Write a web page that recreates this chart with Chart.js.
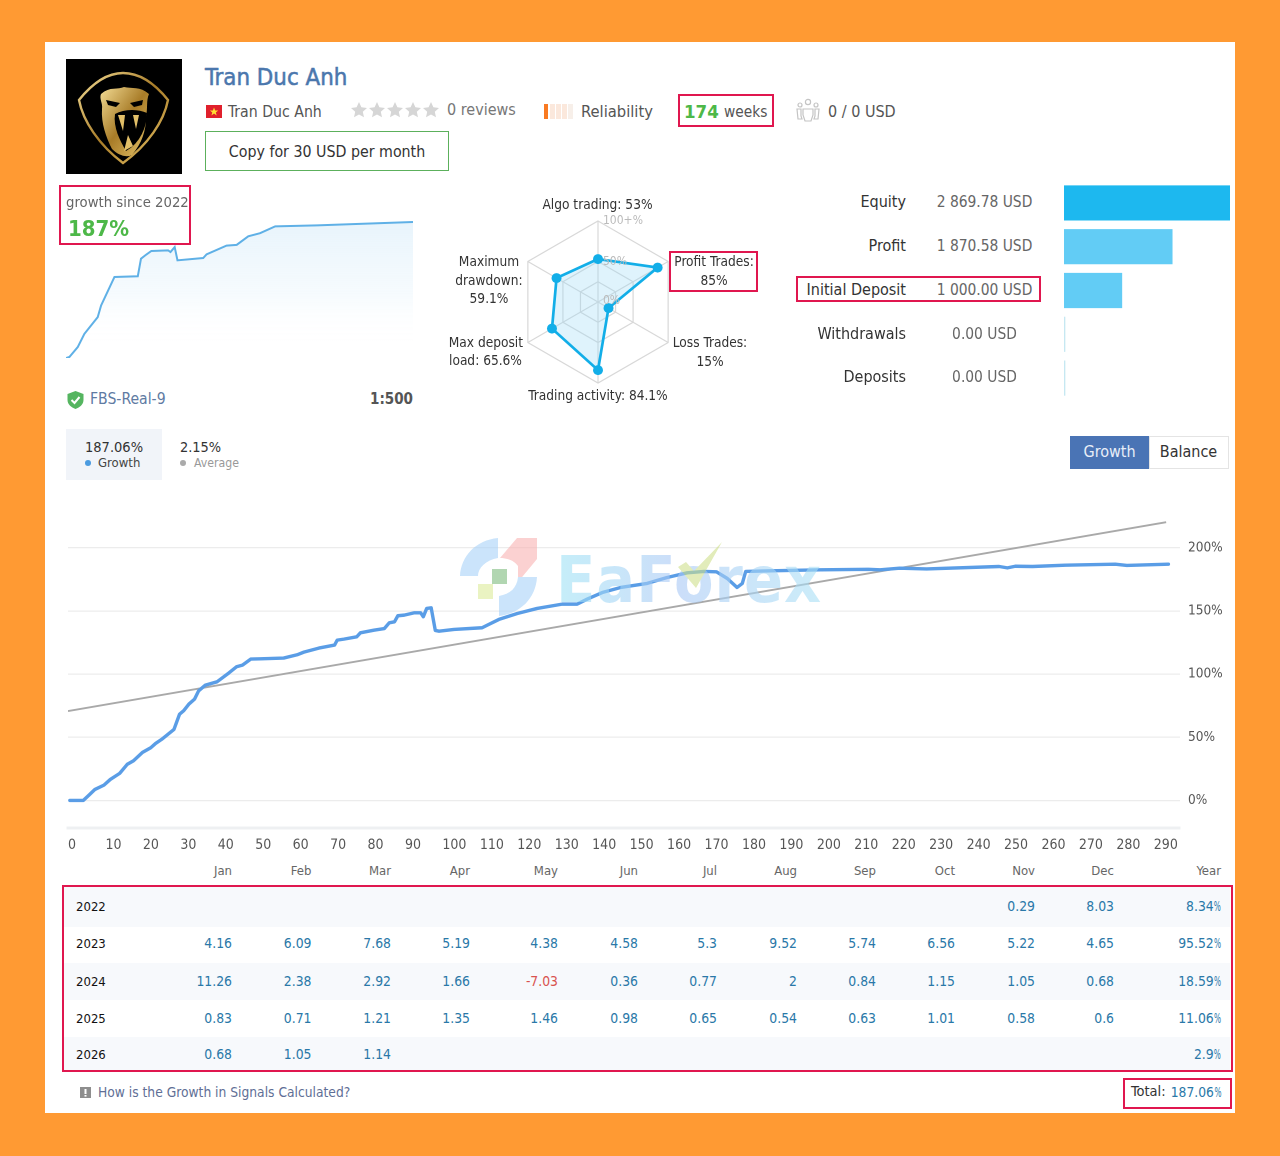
<!DOCTYPE html>
<html><head><meta charset="utf-8">
<script src="https://cdn.jsdelivr.net/npm/chart.js@4"></script>
<style>
html,body{margin:0;padding:0;background:#ff9a33;width:1280px;height:1156px;overflow:hidden}
body{font-family:"DejaVu Sans Condensed","DejaVu Sans",sans-serif;font-stretch:condensed;color:#333;position:relative}
#panel{position:absolute;left:45px;top:42px;width:1190px;height:1071px;background:#fff}
.t{position:absolute;white-space:nowrap;transform:translateY(-50%);line-height:1.2;font-size:14.5px}
.c{transform:translate(-50%,-50%)}
.r{transform:translate(-100%,-50%)}
.box{position:absolute;border:2px solid #e0174f;box-sizing:border-box}
.abs{position:absolute}
canvas{position:absolute}
.band{position:absolute;left:64px;width:1166px;background:#f7f9fc}
.pc{display:inline-block;transform:scaleX(.6);transform-origin:100% 50%;margin-left:-4.5px}
</style></head><body>
<div id="panel"></div>

<!-- avatar -->
<svg class="abs" style="left:66px;top:59px" width="116" height="115" viewBox="0 0 116 115">
<defs><linearGradient id="g" x1="0" y1="0" x2="1" y2="1"><stop offset="0" stop-color="#f3dc95"/><stop offset=".5" stop-color="#a87c28"/><stop offset="1" stop-color="#e8c56a"/></linearGradient></defs>
<rect width="116" height="115" fill="#000"/>
<path d="M57 14C74 14 90 26 102 41C98 62 82 86 57 104C33 86 17 62 13 41C25 26 40 14 57 14Z" fill="none" stroke="url(#g)" stroke-width="2.4"/>
<path d="M35 35C44 27 52 31 58 28C66 30 74 27 83 35C80 42 82 48 80 58C80 72 76 84 66 96C60 99 52 96 46 90C40 78 35 64 36 50C37 44 33 40 35 35Z" fill="url(#g)"/>
<path d="M40 41L54 44L50 48L42 46ZM77 41L64 44L68 48L76 46Z" fill="#000"/>
<path d="M49 55C58 50 72 50 81 54C81 68 74 84 60 92C54 82 47 68 49 55Z" fill="#000"/>
<path d="M52 56L57 72L59 56ZM73 56L70 70L67 56ZM58 92L62 76L67 87Z" fill="#e2bf68"/>
</svg>

<div class="t" style="left:205px;top:77px;font-size:23.8px;color:#4b77ad;-webkit-text-stroke:.5px #4b77ad">Tran Duc Anh</div>
<svg class="abs" style="left:206px;top:105px" width="16" height="13"><rect width="16" height="13" fill="#e0202c"/><path d="M8 2.5l1.2 2.9 3 .1-2.4 1.9.9 3-2.7-1.8-2.6 1.8.9-3-2.4-1.9 3-.1z" fill="#ffe033"/></svg>
<div class="t" style="left:228px;top:112px;font-size:15.7px;color:#555">Tran Duc Anh</div>
<svg class="abs" style="left:351px;top:102px" width="92" height="17" fill="#d6d6d6">
<path id="st" d="M8 0l2.4 5.3 5.6.6-4.2 3.8 1.2 5.6L8 12.5 3 15.3l1.2-5.6L0 5.9l5.6-.6z"/>
<use href="#st" x="18"/><use href="#st" x="36"/><use href="#st" x="54"/><use href="#st" x="72"/></svg>
<div class="t" style="left:447px;top:110px;font-size:16px;color:#777">0 reviews</div>
<svg class="abs" style="left:544px;top:104px" width="32" height="15"><rect width="4" height="15" fill="#f97a22"/><g fill="#fbe8dc"><rect x="6" width="5" height="15"/><rect x="12" width="5" height="15"/><rect x="18" width="5" height="15"/><rect x="24" width="5" height="15" fill="#f7efe9"/></g></svg>
<div class="t" style="left:581px;top:112px;font-size:16.4px;color:#555">Reliability</div>
<div class="box" style="left:678px;top:94px;width:96px;height:33px"></div>
<div class="t" style="left:684px;top:112px;font-size:18.5px;font-weight:700;color:#4db848">174</div>
<div class="t" style="left:724px;top:112px;font-size:15.3px;color:#555">weeks</div>
<svg class="abs" style="left:795px;top:98px" width="26" height="24" fill="none" stroke="#c4c4c4" stroke-width="1.2"><circle cx="13" cy="4" r="2.6"/><circle cx="5" cy="7" r="2"/><circle cx="21" cy="7" r="2"/><path d="M8 11h10v6l-2 6h-6l-2-6zM2 11h4v7l1 3H3zM24 11h-4v7l-1 3h4z"/></svg>
<div class="t" style="left:828px;top:112px;font-size:16px;color:#555">0 / 0 USD</div>
<div class="abs" style="left:205px;top:131px;width:244px;height:40px;border:1px solid #5cb05c;box-sizing:border-box"></div>
<div class="t c" style="left:327px;top:152px;font-size:15.8px;color:#333">Copy for 30 USD per month</div>

<!-- sparkline -->
<canvas id="spark" style="left:66px;top:218px;width:347px;height:140px"></canvas>
<div class="box" style="left:59px;top:185px;width:132px;height:60px"></div>
<div class="t" style="left:66px;top:202px;font-size:14.75px;color:#666">growth since 2022</div>
<div class="t" style="left:68px;top:229px;font-size:22px;font-weight:700;color:#4db848">187%</div>
<svg class="abs" style="left:67px;top:391px" width="17" height="18"><path d="M8.5 0L16.5 3V9C16.5 13 13 16.5 8.5 18C4 16.5 .5 13 .5 9V3Z" fill="#55b560"/><path d="M4.5 9l3 3 5-6" fill="none" stroke="#fff" stroke-width="2"/></svg>
<div class="t" style="left:90px;top:399px;font-size:15.6px;color:#5f7ba3">FBS-Real-9</div>
<div class="t r" style="left:413px;top:399px;font-size:15px;font-weight:700;color:#555">1:500</div>

<!-- radar -->
<canvas id="radar" style="left:513px;top:217px;width:170px;height:170px"></canvas>
<div id="radarLabels"></div>
<div class="box" style="left:669px;top:251px;width:89px;height:41px"></div>

<!-- bars -->
<canvas id="bars" style="left:1064px;top:181px;width:166px;height:219px"></canvas>
<div id="summary"></div>
<div class="box" style="left:796px;top:276px;width:245px;height:26px"></div>

<!-- stat tabs -->
<div class="abs" style="left:66px;top:429px;width:96px;height:51px;background:#f1f4f9"></div>
<div class="t" style="left:85px;top:448px;font-size:14.5px;color:#333">187.06%</div>
<div class="abs" style="left:85px;top:460px;width:6px;height:6px;border-radius:50%;background:#4b9be0"></div>
<div class="t" style="left:98px;top:463px;font-size:13px;color:#444">Growth</div>
<div class="t" style="left:180px;top:448px;font-size:14.4px;color:#333">2.15%</div>
<div class="abs" style="left:180px;top:460px;width:6px;height:6px;border-radius:50%;background:#aaa"></div>
<div class="t" style="left:194px;top:463px;font-size:12.2px;color:#999">Average</div>
<div class="abs" style="left:1070px;top:436px;width:79px;height:33px;background:#4a74b5"></div>
<div class="t c" style="left:1109.5px;top:452px;font-size:16px;color:#e8eef8">Growth</div>
<div class="abs" style="left:1149px;top:436px;width:80px;height:33px;border:1px solid #e4e4e4;box-sizing:border-box"></div>
<div class="t c" style="left:1188.5px;top:452px;font-size:16px;color:#333">Balance</div>

<!-- main chart -->
<canvas id="main" style="left:60px;top:490px;width:1175px;height:370px"></canvas>

<!-- watermark -->
<div class="abs" style="left:460px;top:538px;width:370px;height:80px;opacity:.6;pointer-events:none">
<svg class="abs" style="left:0;top:0" width="80" height="78">
<path d="M38 0C16 2 1 18 0 38H18C18 30 26 22 38 20Z" fill="#a9d3f8"/>
<path d="M40 20L57 0H77V21L58 44L58 28C54 22 46 20 40 20Z" fill="#f9b3b3"/>
<path d="M77 39C76 60 60 76 39 78V58C50 56 57 50 58 39Z" fill="#a9d3f8"/>
<rect x="32" y="31" width="15" height="15" fill="#7dbb7d"/>
<rect x="18" y="46" width="15" height="15" fill="#dcec9a"/>
</svg>
<div class="t" style="left:96px;top:42px;font-size:64px;font-weight:700;font-family:'DejaVu Sans';letter-spacing:1px;background:linear-gradient(90deg,#9fe3f6,#a9c8f5 45%,#a9e0f6);-webkit-background-clip:text;background-clip:text;color:transparent">EaForex</div>
<svg class="abs" style="left:210px;top:0" width="70" height="60"><path d="M8 29L16 24L24 33L52 4L26 50Z" fill="#cfe08c"/></svg>
</div>

<!-- table -->
<div class="band" style="top:887px;height:40px"></div>
<div class="band" style="top:963px;height:37px"></div>
<div class="band" style="top:1037px;height:33px"></div>
<div id="table"></div>
<div class="box" style="left:62px;top:885px;width:1171px;height:187px"></div>
<svg class="abs" style="left:80px;top:1087px" width="12" height="12"><rect width="11" height="11" fill="#8e8e8e"/><rect x="4.5" y="2" width="2" height="5" fill="#fff"/><rect x="4.5" y="8" width="2" height="1.6" fill="#fff"/></svg>
<div class="t" style="left:98px;top:1092px;font-size:13.7px;color:#5f6f96">How is the Growth in Signals Calculated?</div>
<div class="box" style="left:1123px;top:1078px;width:109px;height:31px"></div>
<div class="t" style="left:1131px;top:1092px;font-size:14.5px;color:#333">Total:</div>
<div class="t r" style="left:1221px;top:1092px;font-size:13.7px;color:#2a78a8">187.06<span class="pc">%</span></div>

<script>
// Main growth curve (trade number, growth %)
const growthTrades=[0.5,4.1,5.6,7.2,9.6,11.3,13.8,15.8,17.5,19.9,22.1,23.4,25,28.3,29.8,30.9,32.3,33.8,34.9,36.7,39.8,43,45,46.6,48.8,51.4,57.6,61.2,63,67,71.2,71.9,73.7,77.1,78.1,81.7,84.5,85.8,87.2,88.1,89.8,92.4,94.2,94.9,95.8,97,98.1,99.1,103.1,110.6,112,115.1,120,125.3,132,136,138.7,142.7,147.6,154.7,160,165.4,169.9,173.2,176.1,178.7,180.1,181,187.7,201,213.8,216.9,222.1,229.3,248.7,250.9,253,257.6,266.4,279.7,282.8,293.9];
const growthPct=[0,0,4.2,8.7,12.1,16.6,21.4,28.5,31.4,38,41.7,45.1,48.3,56.2,68.3,71,76.3,80.2,86.8,91.3,93.9,101,105.8,107.1,111.9,112.1,112.7,115.3,117.4,120.6,123,126.9,127.7,129.5,132.7,134.8,136.1,140.6,141.4,146.2,146.7,148.5,148.5,145.4,152,152.5,134.6,134,135.4,136.7,138.8,143.3,148,152,155.4,155.4,159.4,164.6,168.6,171.8,176.5,180.2,181.3,181,175.7,168.6,171.8,181.3,181.8,182.6,183,182.6,183.9,183.3,185.2,184.1,185.4,185.2,186.2,187,186,187];
const trendTrades=[0,293.3];
const trendPct=[70.7,220.3];
const xTickValues=[0,10,20,30,40,50,60,70,80,90,100,110,120,130,140,150,160,170,180,190,200,210,220,230,240,250,260,270,280,290];
const yTickValues=[0,50,100,150,200];

// Sparkline (week, growth %)
const sparkWeeks=[0,1.7,5.9,9.2,15.9,17.6,24.3,36,37.6,40.2,42.8,51.2,52.4,54.5,55.9,68.8,70.5,80.5,85.6,91.4,97.3,104.9,125.8,174];
const sparkPct=[0,1.4,15,33,56,72,111,112,136,141.6,146.6,147.5,145.2,152,133.8,137,142,154,155,166.7,171,180.4,181.7,186.3];

// Radar
const radarAxes=['Algo trading','Profit Trades','Loss Trades','Trading activity','Max deposit load','Maximum drawdown'];
const radarValues=[53,85,15,84.1,65.6,59.1];
const radarRings=[0,25,50,100];

// Summary bars
const summaryLabels=['Equity','Profit','Initial Deposit','Withdrawals','Deposits'];
const summaryText=['2 869.78 USD','1 870.58 USD','1 000.00 USD','0.00 USD','0.00 USD'];
const summaryValues=[2869.78,1870.58,1000,0,0];

// Monthly table
const months=['Jan','Feb','Mar','Apr','May','Jun','Jul','Aug','Sep','Oct','Nov','Dec','Year'];
const years=['2022','2023','2024','2025','2026'];
const y2022=['','','','','','','','','','','0.29','8.03','8.34%'];
const y2023=['4.16','6.09','7.68','5.19','4.38','4.58','5.3','9.52','5.74','6.56','5.22','4.65','95.52%'];
const y2024=['11.26','2.38','2.92','1.66','-7.03','0.36','0.77','2','0.84','1.15','1.05','0.68','18.59%'];
const y2025=['0.83','0.71','1.21','1.35','1.46','0.98','0.65','0.54','0.63','1.01','0.58','0.6','11.06%'];
const y2026=['0.68','1.05','1.14','','','','','','','','','','2.9%'];
const tableRows=[y2022,y2023,y2024,y2025,y2026];

const FONT='"DejaVu Sans Condensed","DejaVu Sans",sans-serif';
Chart.defaults.font.family=FONT;
Chart.defaults.animation=false;
Chart.defaults.responsive=false;
Chart.defaults.devicePixelRatio=2;

function sized(id){const c=document.getElementById(id);c.width=parseInt(c.style.width);c.height=parseInt(c.style.height);return c;}
function pairs(xs,ys){return xs.map((x,i)=>({x,y:ys[i]}));}
function addText(parent,cls,style,text){const d=document.createElement('div');d.className='t '+cls;d.style.cssText=style;
 if(text.endsWith('%')&&cls==='r'&&style.includes('#2a78a8')){d.textContent=text.slice(0,-1);const s=document.createElement('span');s.className='pc';s.textContent='%';d.appendChild(s);}
 else d.textContent=text;
 parent.appendChild(d);}
function noPad(s){s.paddingTop=0;s.paddingBottom=0;s.paddingLeft=0;s.paddingRight=0;s._margins={left:0,right:0,top:0,bottom:0};}

// main
new Chart(sized('main'),{type:'line',
 data:{datasets:[
  {data:pairs(growthTrades,growthPct),borderColor:'#5a9de6',borderWidth:3.4,pointRadius:0,tension:0,fill:false,borderJoinStyle:'round',borderCapStyle:'round'},
  {data:pairs(trendTrades,trendPct),borderColor:'#a9a9a9',borderWidth:1.9,pointRadius:0,tension:0,fill:false}
 ]},
 options:{layout:{autoPadding:false,padding:{left:8,top:10,right:0,bottom:0}},
  plugins:{legend:{display:false},tooltip:{enabled:false}},
  scales:{
   x:{type:'linear',min:0,max:297,
    afterBuildTicks:s=>{s.ticks=xTickValues.map(value=>({value}));},
    afterFit:s=>{s.height=32;noPad(s);},
    grid:{display:false,drawTicks:false},
    border:{color:'#eef0f2',width:3},
    ticks:{autoSkip:false,maxRotation:0,minRotation:0,align:'start',padding:9,color:'#555',font:{size:14},callback:v=>String(v)}},
   y:{type:'linear',position:'right',min:-21.85,max:237.85,
    afterBuildTicks:s=>{s.ticks=yTickValues.map(value=>({value}));},
    afterFit:s=>{s.width=55;noPad(s);},
    grid:{color:'#ececec',lineWidth:1.2,drawTicks:false},
    border:{display:false},
    ticks:{padding:8,color:'#555',font:{size:13.5},callback:v=>v+'%'}}
  }}});

// sparkline
const spc=sized('spark');
const grad=spc.getContext('2d').createLinearGradient(0,0,0,140);
grad.addColorStop(0,'rgba(176,218,245,.3)');grad.addColorStop(.55,'rgba(200,230,248,.16)');grad.addColorStop(.9,'rgba(255,255,255,0)');
new Chart(spc,{type:'line',
 data:{datasets:[{data:pairs(sparkWeeks,sparkPct),borderColor:'#5fb0e6',borderWidth:2,pointRadius:0,tension:0,fill:'origin',backgroundColor:grad,clip:false}]},
 options:{layout:{autoPadding:false,padding:0},plugins:{legend:{display:false},tooltip:{enabled:false}},
  scales:{x:{type:'linear',display:false,min:0,max:174},y:{type:'linear',display:false,min:0,max:191.8}}}});

// radar
new Chart(sized('radar'),{type:'radar',
 data:{labels:radarAxes,datasets:[{data:radarValues,borderColor:'#12aee8',borderWidth:2.7,backgroundColor:'rgba(150,215,245,.3)',fill:true,pointRadius:5,pointBackgroundColor:'#12aee8',pointBorderColor:'#12aee8',pointBorderWidth:0}]},
 options:{layout:{padding:4},plugins:{legend:{display:false},tooltip:{enabled:false}},
  scales:{r:{min:0,max:100,afterBuildTicks:s=>{s.ticks=radarRings.map(value=>({value}));},
   ticks:{display:false},pointLabels:{display:false},
   grid:{color:'#d8d8d8',lineWidth:1.2},angleLines:{color:'#d8d8d8',lineWidth:1.2}}}}});
const rl=document.getElementById('radarLabels');
[['100+%',603,220],['50%',603,261],['0%',603,300]].forEach(a=>addText(rl,'',`left:${a[1]}px;top:${a[2]}px;font-size:12px;color:#bbb`,a[0]));
[['Algo trading: 53%',597.5,204],['Maximum',489,261],['drawdown:',489,280],['59.1%',489,298],['Profit Trades:',714,261],['85%',714,280],['Loss Trades:',710,342],['15%',710,361],['Trading activity: 84.1%',598,395]]
 .forEach(a=>addText(rl,'c',`left:${a[1]}px;top:${a[2]}px;font-size:13.6px;color:#333`,a[0]));
[['Max deposit',523,342],['load: 65.6%',522,360]].forEach(a=>addText(rl,'r',`left:${a[1]}px;top:${a[2]}px;font-size:13.6px;color:#333`,a[0]));

// bars
new Chart(sized('bars'),{type:'bar',
 data:{labels:summaryLabels,datasets:[{data:summaryValues,barThickness:34.5,minBarLength:1,borderWidth:0,
   backgroundColor:['#1db8ef','#62ccf5','#62ccf5','#c6e8f2','#c6e8f2']}]},
 options:{indexAxis:'y',layout:{autoPadding:false,padding:0},plugins:{legend:{display:false},tooltip:{enabled:false}},
  scales:{x:{display:false,min:0,max:2869.78},y:{display:false}}}});
const sum=document.getElementById('summary');
const sumY=[202,246,290,334,377];
summaryLabels.forEach((l,i)=>{
 addText(sum,'r',`left:906px;top:${sumY[i]}px;font-size:16px;color:#333`,l);
 addText(sum,'c',`left:984.5px;top:${sumY[i]}px;font-size:15.4px;color:#666`,summaryText[i]);
});

// table
const colRight=[232,311.5,391,470,558,638,717,797,876,955,1035,1114,1221];
const rowY=[907,944,982,1019,1055];
const dataY=[906,943,981,1018,1054];
const tb=document.getElementById('table');
months.forEach((m,i)=>addText(tb,'r',`left:${colRight[i]}px;top:871px;font-size:13px;color:#666`,m));
years.forEach((y,r)=>{
 addText(tb,'',`left:76px;top:${rowY[r]}px;font-size:13px;color:#111`,y);
 tableRows[r].forEach((v,i)=>{ if(v) addText(tb,'r',`left:${colRight[i]}px;top:${dataY[r]}px;font-size:13.8px;color:${v[0]==='-'?'#d9534f':'#2a78a8'}`,v); });
});
</script>
</body></html>
